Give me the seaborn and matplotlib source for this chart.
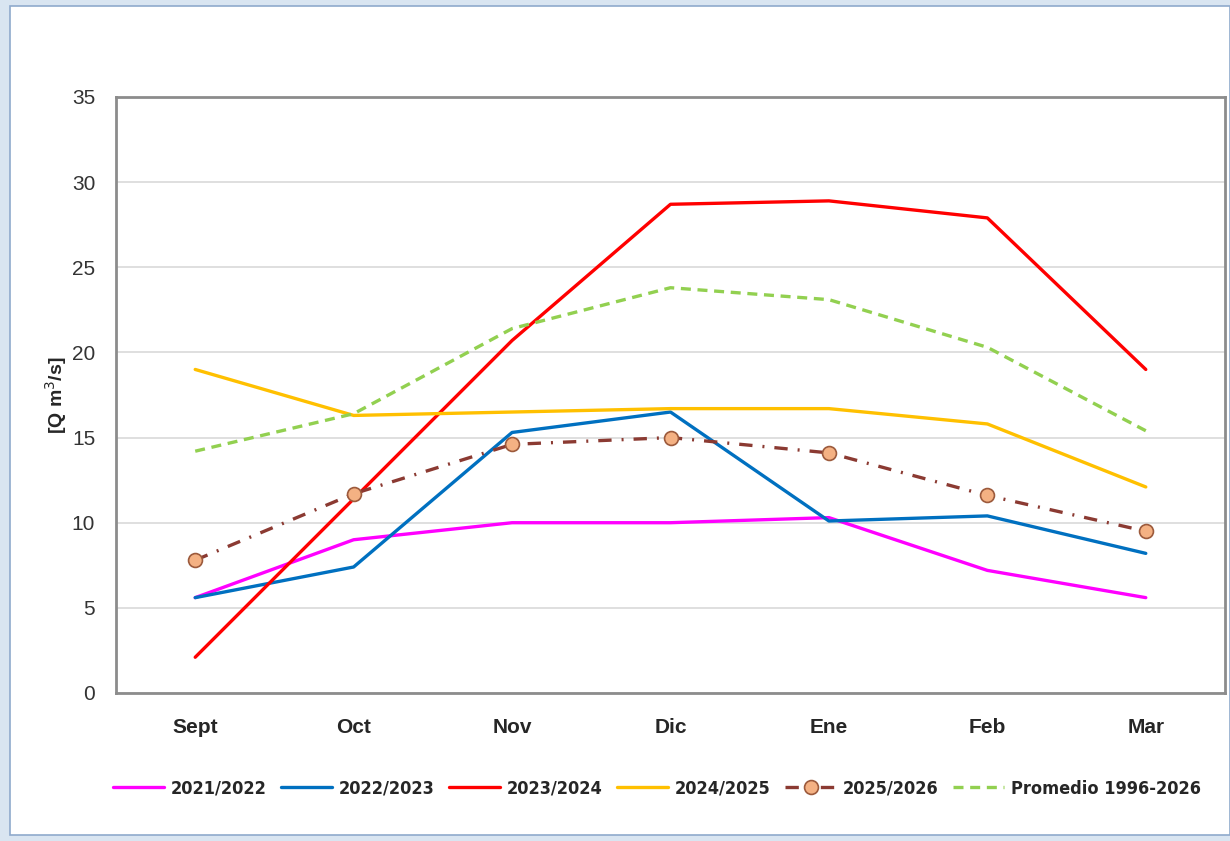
import numpy as np
import pandas as pd
import matplotlib
matplotlib.use("Agg")
import matplotlib.pyplot as plt
from matplotlib import font_manager
from matplotlib.patches import Rectangle
import seaborn as sns

# Caudal mensual (m3/s) por temporada
months = ["Sept", "Oct", "Nov", "Dic", "Ene", "Feb", "Mar"]
s2021_2022 = [5.6, 9.0, 10.0, 10.0, 10.3, 7.2, 5.6]
s2022_2023 = [5.6, 7.4, 15.3, 16.5, 10.1, 10.4, 8.2]
s2023_2024 = [2.1, 11.4, 20.7, 28.7, 28.9, 27.9, 19.0]
s2024_2025 = [19.0, 16.3, 16.5, 16.7, 16.7, 15.8, 12.1]
s2025_2026 = [7.8, 11.7, 14.6, 15.0, 14.1, 11.6, 9.5]
promedio = [14.2, 16.4, 21.4, 23.8, 23.1, 20.3, 15.4]

series_names = ["2021/2022", "2022/2023", "2023/2024", "2024/2025",
                "2025/2026", "Promedio 1996-2026"]
series_values = [s2021_2022, s2022_2023, s2023_2024, s2024_2025,
                 s2025_2026, promedio]
y_ticks = [0, 5, 10, 15, 20, 25, 30, 35]

styles = {
    "2021/2022": dict(color="#ff00ff", linestyle="-"),
    "2022/2023": dict(color="#0070c0", linestyle="-"),
    "2023/2024": dict(color="#ff0000", linestyle="-"),
    "2024/2025": dict(color="#ffc000", linestyle="-"),
    "2025/2026": dict(color="#8b3a32", linestyle=(0, (4, 3, 0.6, 3)),
                      marker="o", markersize=10, markerfacecolor="#f4b183",
                      markeredgecolor="#9c5a3c", markeredgewidth=1.2),
    "Promedio 1996-2026": dict(color="#92d050", linestyle=(0, (3, 2))),
}

# pick a condensed bold face for the legend if one is installed
fonts = font_manager.fontManager.ttflist
legend_prop = {"family": "Liberation Sans", "weight": "bold", "size": 12.5}
if any(f.name == "Liberation Sans Narrow" for f in fonts):
    legend_prop = {"family": "Liberation Sans Narrow", "weight": "bold", "size": 15}
elif any(f.name == "DejaVu Sans" and f.stretch == "condensed" for f in fonts):
    legend_prop = {"family": "DejaVu Sans", "stretch": "condensed",
                   "weight": "bold", "size": 13}

sns.set_style("white")
plt.rcParams["font.family"] = ["Liberation Sans", "DejaVu Sans"]

fig = plt.figure(figsize=(12.3, 8.41), dpi=100)
fig.patch.set_facecolor("#d9e5f1")
fig.patches.append(Rectangle((10 / 1230, 6 / 841), 1 - 10 / 1230, 1 - 12 / 841,
                             transform=fig.transFigure, facecolor="white",
                             edgecolor="#8faacc", linewidth=1.2, zorder=-10))

ax = fig.add_axes([116 / 1230, 1 - 693 / 841, (1225 - 116) / 1230, (693 - 97) / 841])
ax.set_facecolor("white")

x = np.arange(len(months))
for name, vals in zip(series_names, series_values):
    st = styles[name]
    sns.lineplot(x=x, y=vals, ax=ax, label=name, linewidth=2.4,
                 sort=False, **st)

ax.set_xlim(-0.5, len(months) - 0.5)
ax.set_ylim(0, 35)
ax.set_yticks(y_ticks)
ax.yaxis.grid(True, color="#d9d9d9", linewidth=1.2)
ax.set_axisbelow(True)

ax.set_xticks(x)
ax.set_xticklabels(months, fontsize=15, fontweight="bold")
ax.set_xticks(np.arange(-0.5, len(months)), minor=True)
ax.tick_params(axis="x", which="major", length=0, pad=18)
ax.tick_params(axis="x", which="minor", length=7, width=1.2, color="#808080",
               direction="out")
ax.tick_params(axis="y", length=7, width=1.2, color="#808080", direction="out",
               labelsize=15, pad=8)
for lbl in ax.get_yticklabels():
    lbl.set_color("#333333")

for side in ["left", "bottom", "top", "right"]:
    ax.spines[side].set_color("#8c8c8c")
    ax.spines[side].set_linewidth(2.0)

ax.set_xlabel("")
ax.set_ylabel("[Q m$^3$/s]", fontsize=14, fontweight="bold", labelpad=2)

leg = ax.legend(loc="upper center", bbox_to_anchor=(0.488, -0.118), ncol=6,
                frameon=False, handlelength=2.8, handletextpad=0.4,
                columnspacing=0.8, prop=legend_prop)

fig.savefig("out.png", dpi=100, facecolor=fig.get_facecolor())
